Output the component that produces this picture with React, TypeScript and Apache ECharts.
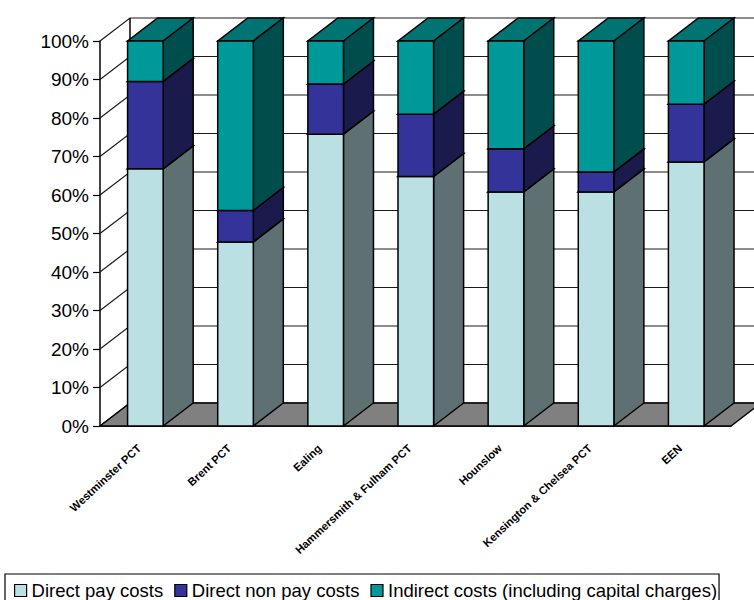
import React, { useEffect, useRef } from "react";
import * as echarts from "echarts";

const categories = [
  "Westminster PCT",
  "Brent PCT",
  "Ealing",
  "Hammersmith & Fulham PCT",
  "Hounslow",
  "Kensington & Chelsea PCT",
  "EEN",
];
const directPay = [66.8, 47.8, 75.8, 64.8, 60.8, 60.8, 68.6];
const directNonPay = [22.7, 8.2, 13, 16.2, 11.2, 5.2, 15];
const indirect = [10.5, 44, 11.2, 19, 28, 34, 16.4];
const yTicks = [0, 10, 20, 30, 40, 50, 60, 70, 80, 90, 100];

const DEPTH_X = 30;
const DEPTH_Y = -23;
const LINE = "#000000";
const LINE_WIDTH = 1.5;

// Draws one stacked block as an oblique box: front face, right side and top.
function boxRenderer(front: string, side: string, top: string) {
  return (_params: any, api: any) => {
    const lo = api.coord([api.value(0), api.value(1)]);
    const hi = api.coord([api.value(0), api.value(2)]);
    const w = api.size([1, 0])[0] * 0.395;
    const x0 = lo[0] - w / 2 + 0.3;
    const x1 = x0 + w;
    const stroke = { stroke: LINE, lineWidth: LINE_WIDTH, lineJoin: "miter" };
    return {
      type: "group",
      children: [
        {
          type: "polygon",
          shape: {
            points: [
              [x0, hi[1]],
              [x1, hi[1]],
              [x1 + DEPTH_X, hi[1] + DEPTH_Y],
              [x0 + DEPTH_X, hi[1] + DEPTH_Y],
            ],
          },
          style: { fill: top, ...stroke },
        },
        {
          type: "polygon",
          shape: {
            points: [
              [x1, lo[1]],
              [x1 + DEPTH_X, lo[1] + DEPTH_Y],
              [x1 + DEPTH_X, hi[1] + DEPTH_Y],
              [x1, hi[1]],
            ],
          },
          style: { fill: side, ...stroke },
        },
        {
          type: "rect",
          shape: { x: x0, y: hi[1], width: w, height: lo[1] - hi[1] },
          style: { fill: front, ...stroke },
        },
      ],
    };
  };
}

// Back wall gridlines with their return along the left side wall.
function wallRenderer(params: any, api: any) {
  const p = api.coord([0, api.value(0)]);
  const left = params.coordSys.x;
  const right = left + params.coordSys.width + DEPTH_X;
  return {
    type: "polyline",
    shape: {
      points: [
        [left, p[1]],
        [left + DEPTH_X, p[1] + DEPTH_Y],
        [right, p[1] + DEPTH_Y],
      ],
    },
    style: { fill: "none", stroke: "#1a1a1a", lineWidth: 1.2 },
  };
}

// Floor of the plot plus the rear vertical edge of the back wall.
function floorRenderer(params: any, api: any) {
  const c = params.coordSys;
  const bottom = c.y + c.height;
  const left = c.x;
  const right = c.x + c.width;
  return {
    type: "group",
    children: [
      {
        type: "line",
        shape: { x1: left + DEPTH_X, y1: c.y + DEPTH_Y, x2: left + DEPTH_X, y2: bottom + DEPTH_Y },
        style: { stroke: LINE, lineWidth: LINE_WIDTH },
      },
      {
        type: "polygon",
        shape: {
          points: [
            [left, bottom],
            [left + DEPTH_X, bottom + DEPTH_Y],
            [right + DEPTH_X, bottom + DEPTH_Y],
            [right, bottom],
          ],
        },
        style: { fill: "#808080", stroke: LINE, lineWidth: LINE_WIDTH },
      },
    ],
  };
}

function stackedRows(base: number[][], values: number[]) {
  return values.map((v, i) => {
    const lo = base.reduce((sum, s) => sum + s[i], 0);
    return [i, lo, lo + v];
  });
}

export default function App() {
  const ref = useRef<HTMLDivElement>(null);

  useEffect(() => {
    if (!ref.current) return;
    const chart = echarts.init(ref.current, null, { renderer: "svg" });
    const blockSeries = (name: string, rows: number[][], front: string, side: string, top: string) => ({
      type: "custom",
      name,
      data: rows,
      encode: { x: 0, y: [1, 2] },
      itemStyle: { color: front },
      renderItem: boxRenderer(front, side, top),
    });
    chart.setOption({
      animation: false,
      backgroundColor: "#ffffff",
      textStyle: { fontFamily: "Liberation Sans" },
      grid: { left: 100, top: 41, width: 631, height: 385, containLabel: false },
      legend: {
        data: ["Direct pay costs", "Direct non pay costs", "Indirect costs (including capital charges)"],
        left: 5,
        top: 574,
        padding: [7, 2, 8, 9],
        itemGap: 11,
        itemWidth: 12,
        itemHeight: 12,
        icon: "rect",
        borderColor: "#000",
        borderWidth: 1.2,
        selectedMode: false,
        itemStyle: { borderColor: "#000", borderWidth: 1.2 },
        textStyle: { fontFamily: "Liberation Sans", fontSize: 18.5, color: "#000" },
      },
      xAxis: {
        type: "category",
        data: categories,
        axisLine: { lineStyle: { color: LINE, width: LINE_WIDTH } },
        axisTick: { length: 7, lineStyle: { color: LINE, width: 1.2 } },
        axisLabel: {
          interval: 0,
          rotate: 43,
          margin: 15,
          padding: [0, 8, 0, 0],
          fontFamily: "Liberation Sans",
          fontSize: 11.2,
          fontWeight: "bold",
          color: "#000",
        },
      },
      yAxis: {
        type: "value",
        min: 0,
        max: 100,
        interval: 10,
        axisLine: { show: true, lineStyle: { color: LINE, width: LINE_WIDTH } },
        axisTick: { show: true, length: 7, lineStyle: { color: LINE, width: 1.2 } },
        splitLine: { show: false },
        axisLabel: {
          margin: 11,
          formatter: "{value}%",
          fontFamily: "Liberation Sans",
          fontSize: 19,
          color: "#000",
        },
      },
      series: [
        {
          type: "custom",
          name: "walls",
          data: yTicks.map((t) => [t]),
          encode: { y: 0 },
          renderItem: wallRenderer,
          silent: true,
        },
        {
          type: "custom",
          name: "floor",
          data: [[0]],
          encode: { y: 0 },
          renderItem: floorRenderer,
          silent: true,
        },
        blockSeries("Direct pay costs", stackedRows([], directPay), "#BBE0E3", "#5E7072", "#8CA8AA"),
        blockSeries("Direct non pay costs", stackedRows([directPay], directNonPay), "#333399", "#1A1A4D", "#262673"),
        blockSeries("Indirect costs (including capital charges)", stackedRows([directPay, directNonPay], indirect), "#009999", "#004D4D", "#007373"),
      ],
    });
    return () => chart.dispose();
  }, []);

  return <div ref={ref} style={{ position: "absolute", left: 0, top: 0, width: 754, height: 600 }} />;
}
